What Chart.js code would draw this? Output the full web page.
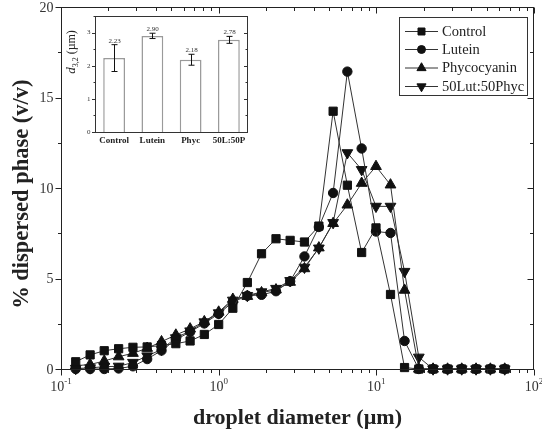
<!DOCTYPE html>
<html><head><meta charset="utf-8">
<script src="https://cdn.jsdelivr.net/npm/chart.js@4.4.0/dist/chart.umd.min.js"></script>
<style>
html,body{margin:0;padding:0;background:#fff;}
#wrap{position:relative;width:542px;height:436px;}
#main{position:absolute;left:0;top:0;}
#inset{position:absolute;left:60px;top:6px;}
</style></head>
<body><div id="wrap"><canvas id="main" width="542" height="436"></canvas><canvas id="inset" width="200" height="150"></canvas></div>
<script>
// ---- main chart data ----
const diameters = [0.124,0.153,0.188,0.232,0.286,0.352,0.434,0.535,0.659,0.811,1.00,1.23,1.52,1.87,2.31,2.84,3.50,4.32,5.32,6.55,8.07,9.95,12.3,15.1,18.6,22.9,28.3,34.8,42.9,52.9,65.2];
const controlVals = [0.40,0.78,1.01,1.12,1.20,1.22,1.30,1.40,1.55,1.91,2.46,3.36,4.78,6.37,7.20,7.11,7.02,7.90,14.25,10.16,6.44,7.80,4.12,0.08,0,0,0,0,0,0,0];
const luteinVals = [0,0,0,0.03,0.15,0.55,1.02,1.62,2.05,2.52,3.05,3.70,4.05,4.10,4.30,4.85,6.22,7.85,9.73,16.44,12.19,7.60,7.52,1.55,0,0,0,0,0,0,0];
const phycVals = [0.18,0.25,0.44,0.68,0.87,1.15,1.51,1.88,2.22,2.62,3.15,3.86,4.02,4.22,4.38,4.80,5.55,6.70,8.05,9.07,10.27,11.20,10.18,4.36,0,0,0,0,0,0,0];
const mixVals = [0.03,0.06,0.13,0.15,0.36,0.72,1.08,1.72,2.10,2.60,3.10,3.80,4.06,4.26,4.45,4.88,5.62,6.68,8.09,11.95,11.02,8.99,8.99,5.39,0.65,0,0,0,0,0,0];
const seriesNames = ['Control','Lutein','Phycocyanin','50Lut:50Phyc'];
const yTickVals = [0,5,10,15,20];
const xDecades = [-1,0,1,2];
// ---- inset data ----
const insetCats = ['Control','Lutein','Phyc','50L:50P'];
const insetVals = [2.23,2.90,2.18,2.78];
const insetErr = [0.405,0.08,0.165,0.105];
const insetLabels = ['2.23','2.90','2.18','2.78'];
const insetTicks = [0,1,2,3];

const SERIF = '"Liberation Serif","DejaVu Serif",serif';
const pts = v => v.map((y,i)=>({x:diameters[i], y}));
const styles = [
  {pointStyle:'rect', radius:5.8, rotation:0},
  {pointStyle:'circle', radius:4.7, rotation:0},
  {pointStyle:'triangle', radius:6.2, rotation:0},
  {pointStyle:'triangle', radius:6.2, rotation:180}
];
const allVals = [controlVals, luteinVals, phycVals, mixVals];
const datasets = allVals.map((v,k)=>({
  label: seriesNames[k], data: pts(v),
  borderColor:'#333', borderWidth:1, tension:0, clip:false,
  pointStyle: styles[k].pointStyle, pointRadius: styles[k].radius, pointRotation: styles[k].rotation,
  pointBackgroundColor:'#111', pointBorderColor:'#111', pointBorderWidth:1, pointHoverRadius: styles[k].radius
}));

function ln(ctx,x1,y1,x2,y2){ctx.beginPath();ctx.moveTo(x1,y1);ctx.lineTo(x2,y2);ctx.stroke();}

const mainDeco = {
  id:'mainDeco',
  afterDraw(chart){
    const {ctx, chartArea:a, scales:{x,y}} = chart;
    ctx.save();
    ctx.strokeStyle='#222'; ctx.lineWidth=1;
    ctx.strokeRect(Math.round(a.left)+0.5, Math.round(a.top)+0.5, Math.round(a.right-a.left)-1, Math.round(a.bottom-a.top));
    const B = Math.round(a.bottom)+0.5, T = Math.round(a.top)+0.5, Lf = Math.round(a.left)+0.5, R = Math.round(a.right)-0.5;
    for (const e of xDecades){
      for (let m=1;m<=9;m++){
        if (e===2 && m>1) break;
        const v = m*Math.pow(10,e);
        const px = Math.round(x.getPixelForValue(v))+0.5;
        const L = m===1?6:3.5;
        ln(ctx,px,B,px,B+L); ln(ctx,px,T,px,T+L);
      }
    }
    for (let v=0; v<=20; v+=2.5){
      const py = Math.round(y.getPixelForValue(v))+0.5;
      const L = (v%5===0)?6:3.5;
      ln(ctx,Lf-L,py,Lf,py); ln(ctx,R-L,py,R,py);
    }
    ctx.fillStyle='#333';
    ctx.font='14px '+SERIF; ctx.textAlign='right'; ctx.textBaseline='middle';
    for (const v of yTickVals){ ctx.fillText(String(v), Lf-8, y.getPixelForValue(v)+1); }
    for (const e of xDecades){
      const px = x.getPixelForValue(Math.pow(10,e));
      ctx.font='14px '+SERIF; const w1 = ctx.measureText('10').width;
      const sup = e<0 ? '-'+Math.abs(e) : String(e);
      ctx.font='9px '+SERIF; const w2 = ctx.measureText(sup).width;
      const x0 = px - (w1+w2)/2;
      ctx.textAlign='left'; ctx.textBaseline='alphabetic';
      ctx.font='14px '+SERIF; ctx.fillText('10', x0, B+21);
      ctx.font='9px '+SERIF; ctx.fillText(sup, x0+w1, B+14);
    }
    ctx.fillStyle='#222';
    ctx.font='bold 22px '+SERIF; ctx.textAlign='center'; ctx.textBaseline='middle';
    ctx.fillText('droplet diameter (\u00b5m)', (a.left+a.right)/2, 418);
    ctx.save(); ctx.translate(22,(a.top+a.bottom)/2+6); ctx.rotate(-Math.PI/2);
    ctx.font='bold 22.5px '+SERIF;
    ctx.fillText('% dispersed phase (v/v)',0,0); ctx.restore();
    ctx.strokeStyle='#333'; ctx.lineWidth=1;
    ctx.strokeRect(399.5,17.5,128,78);
    const rows=[31,49,67.5,86];
    ctx.font='14.5px '+SERIF; ctx.textAlign='left'; ctx.textBaseline='middle'; ctx.fillStyle='#222';
    seriesNames.forEach((n,k)=>{
      const yy=rows[k];
      ln(ctx,405,yy+0.5,438,yy+0.5);
      ctx.fillStyle='#111'; ctx.strokeStyle='#111';
      Chart.helpers.drawPoint(ctx,{pointStyle:styles[k].pointStyle, radius:styles[k].radius*0.85, rotation:styles[k].rotation, borderWidth:1}, 421.5, yy+0.5);
      ctx.strokeStyle='#333'; ctx.fillStyle='#222';
      ctx.fillText(n,442,yy+1);
    });
    ctx.restore();
  }
};

new Chart(document.getElementById('main'),{
  type:'line',
  data:{datasets},
  options:{
    responsive:false, animation:false, devicePixelRatio:1,
    layout:{padding:{top:7,right:8,left:0,bottom:0}},
    plugins:{legend:{display:false},tooltip:{enabled:false}},
    scales:{
      x:{type:'logarithmic',min:0.1,max:100,ticks:{display:false},grid:{display:false},border:{display:false},
         afterFit(s){s.height=67;}},
      y:{type:'linear',min:0,max:20,ticks:{display:false},grid:{display:false},border:{display:false},
         afterFit(s){s.width=61;}}
    }
  },
  plugins:[mainDeco]
});

// ---- inset ----
const insetDeco = {
  id:'insetDeco',
  afterDatasetsDraw(chart){
    const {ctx, chartArea:a, scales:{x,y}} = chart;
    ctx.save();
    ctx.strokeStyle='#111'; ctx.lineWidth=1;
    insetVals.forEach((v,i)=>{
      const px=Math.round(x.getPixelForValue(i))+0.5;
      const y1=y.getPixelForValue(v-insetErr[i]), y2=y.getPixelForValue(v+insetErr[i]);
      ln(ctx,px,y1,px,y2); ln(ctx,px-3,y1,px+3,y1); ln(ctx,px-3,y2,px+3,y2);
      ctx.fillStyle='#333'; ctx.font='7px '+SERIF; ctx.textAlign='center'; ctx.textBaseline='bottom';
      ctx.fillText(insetLabels[i], px, y2-0.5);
    });
    ctx.strokeStyle='#333';
    ctx.strokeRect(Math.round(a.left)+0.5, Math.round(a.top)+0.5, Math.round(a.right-a.left)-1, Math.round(a.bottom-a.top));
    const Lf=Math.round(a.left)+0.5, R=Math.round(a.right)-0.5;
    for (let v=0; v<=3.5; v+=0.5){
      const py=Math.round(y.getPixelForValue(v))+0.5;
      const L = Number.isInteger(v)?3.5:2;
      ln(ctx,Lf-L,py,Lf,py); ln(ctx,R-L,py,R,py);
    }
    ctx.fillStyle='#333'; ctx.font='7px '+SERIF; ctx.textAlign='right'; ctx.textBaseline='middle';
    for (const t of insetTicks) ctx.fillText(String(t), Lf-5, y.getPixelForValue(t));
    ctx.font='bold 9px '+SERIF; ctx.textAlign='center'; ctx.textBaseline='middle'; ctx.fillStyle='#222';
    insetCats.forEach((c,i)=>ctx.fillText(c, x.getPixelForValue(i), a.bottom+8.5));
    ctx.save(); ctx.translate(12,46); ctx.rotate(-Math.PI/2);
    ctx.textBaseline='middle'; ctx.textAlign='left';
    ctx.font='italic 13px '+SERIF; const wd=ctx.measureText('d').width;
    ctx.font='8px '+SERIF; const ws=ctx.measureText('3,2').width;
    ctx.font='12px '+SERIF; const wr=ctx.measureText(' (\u00b5m)').width;
    let x0=-(wd+ws+wr)/2;
    ctx.font='italic 13px '+SERIF; ctx.fillText('d',x0,0);
    ctx.font='8px '+SERIF; ctx.fillText('3,2',x0+wd,3.5);
    ctx.font='12px '+SERIF; ctx.fillText(' (\u00b5m)',x0+wd+ws,0);
    ctx.restore();
    ctx.restore();
  }
};

new Chart(document.getElementById('inset'),{
  type:'bar',
  data:{labels:insetCats, datasets:[{data:insetVals, backgroundColor:'#ffffff', borderColor:'#9a9a9a', borderWidth:1.5,
        categoryPercentage:1, barPercentage:0.57}]},
  options:{
    responsive:false, animation:false, devicePixelRatio:1,
    layout:{padding:{top:10,right:12,left:0,bottom:0}},
    plugins:{legend:{display:false},tooltip:{enabled:false}},
    scales:{
      x:{ticks:{display:false},grid:{display:false},border:{display:false},afterFit(s){s.height=24;}},
      y:{min:0,max:3.5,ticks:{display:false},grid:{display:false},border:{display:false},afterFit(s){s.width=35;}}
    }
  },
  plugins:[insetDeco]
});
</script>
</body></html>
